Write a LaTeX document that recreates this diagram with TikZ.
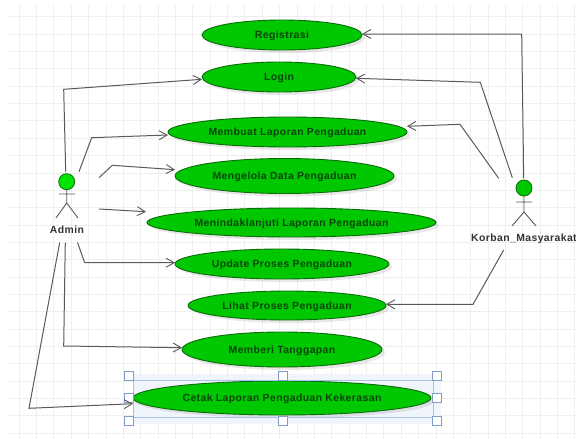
\documentclass[tikz,border=0pt]{standalone}
\usepackage{fontspec}
\setmainfont{Liberation Sans}
\newfontfamily\labelfont[LetterSpace=4]{Liberation Sans}
\usetikzlibrary{shapes.geometric,arrows.meta}
\definecolor{gridc}{HTML}{EFEFEF}
\definecolor{ucfill}{HTML}{00C800}
\definecolor{ucline}{HTML}{0B6B0B}
\definecolor{uctext}{HTML}{0A440A}
\definecolor{wire}{HTML}{5A5A5A}
\definecolor{selc}{HTML}{A9C1E8}
\definecolor{handle}{HTML}{7F9CCB}
\definecolor{glow}{HTML}{F0F5FB}
\tikzset{
  gridline/.style={draw=gridc,line width=0.7pt},
  usecase/.style={ellipse,draw=ucline,fill=ucfill,line width=0.9pt,inner sep=0pt,outer sep=0pt,
    text=uctext,text height=8pt,text depth=1pt,font=\labelfont\bfseries\fontsize{10.4}{12}\selectfont},
  shade ell/.style={ellipse,fill=black,opacity=0.09,inner sep=0pt,outer sep=0pt},
  head/.style={circle,draw=ucline,line width=0.8pt,minimum size=16pt,inner sep=0pt,outer sep=0pt},
  limb/.style={draw=wire,line width=0.9pt},
  actorname/.style={text=black!80,font=\labelfont\bfseries\fontsize{10.4}{12}\selectfont,inner sep=0pt},
  assoc/.style={draw=wire,line width=1pt,-{Straight Barb[length=8pt,width=9pt,line width=0.9pt]}},
  grip/.style={draw=handle,fill=white,line width=0.8pt,minimum size=8.5pt,inner sep=0pt,outer sep=0pt},
}
\newcommand{\ucase}[6]{% name, cx, cy, w, h, text
  \node[shade ell,minimum width=#4pt,minimum height=#5pt] at (#2+3,#3+3) {};
  \node[usecase,minimum width=#4pt,minimum height=#5pt] (#1) at (#2,#3) {#6};
}
\begin{document}
\begin{tikzpicture}[x=1pt,y=-1pt]
\useasboundingbox (0,0) rectangle (576,439);
\fill[white] (0,0) rectangle (576,439);
\foreach \i in {0,...,32} {\draw[gridline] ({19+17.37*\i},5) -- ({19+17.37*\i},439);}
\foreach \i in {0,...,24} {\draw[gridline] (9,{16.7+17.35*\i}) -- (576,{16.7+17.35*\i});}
% selection glow
\fill[glow] (133,374) rectangle (441,424);
\ucase{registrasi}{282}{35}{160}{30}{Registrasi}
\ucase{login}{279}{77}{154}{30}{Login}
\ucase{membuat}{287.5}{132}{239}{30}{Membuat Laporan Pengaduan}
\ucase{mengelola}{284.5}{176}{219}{35}{Mengelola Data Pengaduan}
\ucase{menindak}{291.5}{222.5}{289}{29}{Menindaklanjuti Laporan Pengaduan}
\ucase{update}{282}{264}{214}{30}{Update Proses Pengaduan}
\ucase{lihat}{287}{305.5}{198}{29}{Lihat Proses Pengaduan}
\ucase{memberi}{282}{349.5}{200}{35}{Memberi Tanggapan}
\ucase{cetak}{282}{398}{298}{34}{Cetak Laporan Pengaduan Kekerasan}
% selection frame
\draw[selc,line width=0.9pt] (133,380) rectangle (433,417);
\foreach \n/\x/\y in {g1/129/376,g2/283/376,g3/437/376,g4/129/398,g5/437/398,g6/129/421,g7/283/421,g8/437/421}
  {\node[grip] (\n) at (\x,\y) {};}
% actors
\node[head,fill=green!90!black] (admin) at (66.7,181.7) {};
\draw[limb] (admin.south) -- (66.7,203) (59,194) -- (75,194) (56,218) -- (66.7,203) -- (78,218);
\node[actorname] (adminname) at (67,230) {Admin};
\node[head,fill=ucfill] (korban) at (524,188) {};
\draw[limb] (korban.south) -- (524,212) (516,202) -- (532,202) (512,226) -- (524,212) -- (536,226);
\node[actorname,anchor=west] (korbanname) at (471,238.5) {Korban\_Masyarakat};
% free ends of the associations
\coordinate (a1) at ([shift={(-1,-10)}]admin.center);
\coordinate (a2) at ([shift={(12.3,-10)}]admin.center);
\coordinate (a3) at ([shift={(32.3,-4)}]admin.center);
\coordinate (a4) at ([shift={(32.3,27.3)}]admin.center);
\coordinate (a5) at ([shift={(10.5,12.5)}]adminname.center);
\coordinate (a6) at ([shift={(-1.7,12.5)}]adminname.center);
\coordinate (a7) at ([shift={(-7.3,12.5)}]adminname.center);
\coordinate (k1) at ([shift={(-0.3,-9.7)}]korban.center);
\coordinate (k2) at ([shift={(-11.7,-10.3)}]korban.center);
\coordinate (k3) at ([shift={(-25.3,-9.7)}]korban.center);
\coordinate (k4) at (503.7,250);
\draw[assoc] (a1) -- (63.7,89.3) -- ([yshift=-2.3pt]login.west);
\draw[assoc] (a2) -- (91.7,137.7) -- ([yshift=-3pt]membuat.west);
\draw[assoc] (a3) -- (112.3,165.3) -- ([yshift=6.3pt]mengelola.west);
\draw[assoc] (a4) -- ([shift={(-1,-10.8)}]menindak.west);
\draw[assoc] (a5) -- (84.7,262.7) -- ([yshift=1.3pt]update.west);
\draw[assoc] (a6) -- (63.7,346) -- ([yshift=1.8pt]memberi.west);
\draw[assoc] (a7) -- (29,408.3) -- ([yshift=-5.7pt]cetak.west);
\draw[assoc] (k1) -- (521.7,34) -- ([yshift=1pt]registrasi.east);
\draw[assoc] (k2) -- (480.3,82.3) -- ([yshift=-1.3pt]login.east);
\draw[assoc] (k3) -- (460,124.3) -- ([yshift=5.7pt]membuat.east);
\draw[assoc] (k4) -- (473,304.3) -- ([yshift=1.2pt]lihat.east);
\end{tikzpicture}
\end{document}
